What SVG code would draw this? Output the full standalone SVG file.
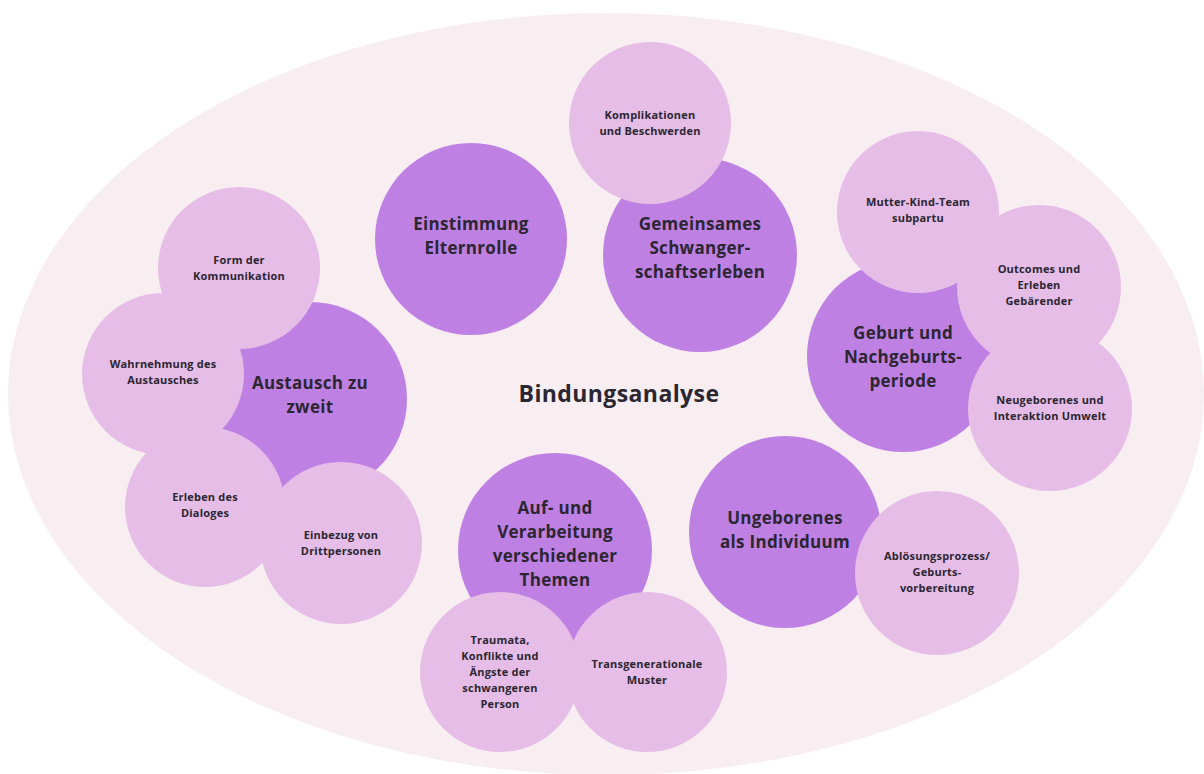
<svg xmlns="http://www.w3.org/2000/svg" width="1204" height="774" viewBox="0 0 1204 774">
<style>
.bg{fill:#f8eef2}
.d{fill:#bf80e3}
.l{fill:#e5bde6}
text{font-family:"Open Sans","Noto Sans","Liberation Sans",sans-serif;fill:#2b2631;text-anchor:middle}
.bt{font-size:17px;font-weight:700;letter-spacing:0.3px}
.st{font-size:11px;font-weight:700;letter-spacing:0.2px}
.ct{font-size:23px;font-weight:700;letter-spacing:0.4px}
</style>
<rect width="1204" height="774" fill="#ffffff"/>
<ellipse class="bg" cx="606" cy="394" rx="598" ry="381"/>
<g id="center"><text class="ct" x="619" y="402">Bindungsanalyse</text></g>
<g id="connectors"></g>
<g id="einstimmung"><circle class="d" cx="471" cy="239" r="96"/><text class="bt"><tspan x="471" y="230">Einstimmung</tspan><tspan x="471" y="254">Elternrolle</tspan></text></g>
<g id="gemeinsames"><circle class="d" cx="700" cy="255" r="97"/><text class="bt"><tspan x="700" y="230">Gemeinsames</tspan><tspan x="700" y="254">Schwanger-</tspan><tspan x="700" y="278">schaftserleben</tspan></text></g>
<g id="komplikationen"><circle class="l" cx="650" cy="123" r="81"/><text class="st"><tspan x="650" y="119">Komplikationen</tspan><tspan x="650" y="135">und Beschwerden</tspan></text></g>
<g id="austausch"><circle class="d" cx="310" cy="399" r="97"/><text class="bt"><tspan x="310" y="389">Austausch zu</tspan><tspan x="310" y="413">zweit</tspan></text></g>
<g id="form"><circle class="l" cx="239" cy="268" r="81"/><text class="st"><tspan x="239" y="264">Form der</tspan><tspan x="239" y="280">Kommunikation</tspan></text></g>
<g id="wahrnehmung"><circle class="l" cx="163" cy="374" r="81"/><text class="st"><tspan x="163" y="368">Wahrnehmung des</tspan><tspan x="163" y="384">Austausches</tspan></text></g>
<g id="erleben"><circle class="l" cx="205" cy="507" r="80"/><text class="st"><tspan x="205" y="501">Erleben des</tspan><tspan x="205" y="517">Dialoges</tspan></text></g>
<g id="einbezug"><circle class="l" cx="341" cy="543" r="81"/><text class="st"><tspan x="341" y="539">Einbezug von</tspan><tspan x="341" y="555">Drittpersonen</tspan></text></g>
<g id="geburt"><circle class="d" cx="903" cy="356" r="96"/><text class="bt"><tspan x="903" y="339">Geburt und</tspan><tspan x="903" y="363">Nachgeburts-</tspan><tspan x="903" y="387">periode</tspan></text></g>
<g id="mutter"><circle class="l" cx="918" cy="212" r="81"/><text class="st"><tspan x="918" y="206">Mutter-Kind-Team</tspan><tspan x="918" y="222">subpartu</tspan></text></g>
<g id="outcomes"><circle class="l" cx="1039" cy="287" r="82"/><text class="st"><tspan x="1039" y="273">Outcomes und</tspan><tspan x="1039" y="289">Erleben</tspan><tspan x="1039" y="305">Gebärender</tspan></text></g>
<g id="neugeborenes"><circle class="l" cx="1050" cy="409" r="82"/><text class="st"><tspan x="1050" y="404">Neugeborenes und</tspan><tspan x="1050" y="420">Interaktion Umwelt</tspan></text></g>
<g id="verarbeitung"><circle class="d" cx="555" cy="550" r="97"/><text class="bt"><tspan x="555" y="514">Auf- und</tspan><tspan x="555" y="538">Verarbeitung</tspan><tspan x="555" y="562">verschiedener</tspan><tspan x="555" y="586">Themen</tspan></text></g>
<g id="traumata"><circle class="l" cx="500" cy="672" r="80"/><text class="st"><tspan x="500" y="644">Traumata,</tspan><tspan x="500" y="660">Konflikte und</tspan><tspan x="500" y="676">Ängste der</tspan><tspan x="500" y="692">schwangeren</tspan><tspan x="500" y="708">Person</tspan></text></g>
<g id="transgenerational"><circle class="l" cx="647" cy="672" r="80"/><text class="st"><tspan x="647" y="668">Transgenerationale</tspan><tspan x="647" y="684">Muster</tspan></text></g>
<g id="ungeborenes"><circle class="d" cx="785" cy="532" r="96"/><text class="bt"><tspan x="785" y="524">Ungeborenes</tspan><tspan x="785" y="548">als Individuum</tspan></text></g>
<g id="abloesung"><circle class="l" cx="937" cy="573" r="82"/><text class="st"><tspan x="937" y="560">Ablösungsprozess/</tspan><tspan x="937" y="576">Geburts-</tspan><tspan x="937" y="592">vorbereitung</tspan></text></g>
</svg>
